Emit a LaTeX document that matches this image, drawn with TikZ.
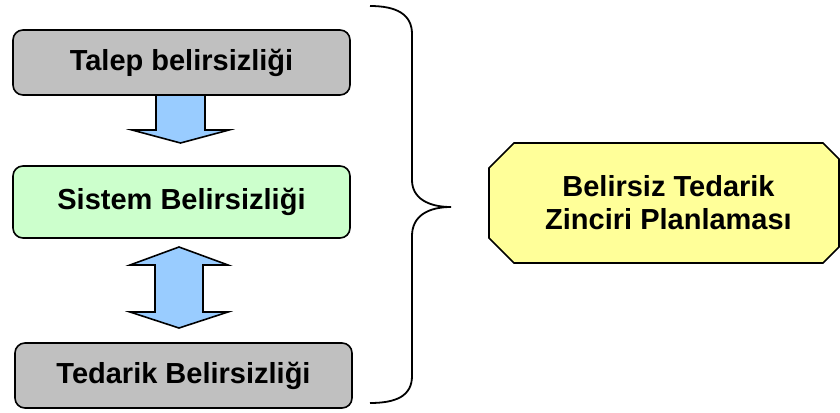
\documentclass[tikz,border=0pt]{standalone}
\usepackage{fontspec}
\setmainfont{Liberation Sans}
\begin{document}
\begin{tikzpicture}[x=1pt,y=-1pt,
  lbl/.style={font=\fontsize{29}{33}\selectfont\bfseries, align=center},
  ubox/.style={lbl, draw=black, line width=1.6pt, rounded corners=10pt,
    minimum width=337pt, minimum height=65pt, inner sep=0pt},
  blockarrow/.style={draw=black, line width=1.6pt, fill=arrowblue, line join=miter},
  brace/.style={draw=black, line width=1.8pt}]
\definecolor{boxgray}{HTML}{C0C0C0}
\definecolor{boxgreen}{HTML}{CCFFCC}
\definecolor{arrowblue}{HTML}{99CCFF}
\definecolor{planyellow}{HTML}{FFFF99}
\useasboundingbox (0,0) rectangle (840,412);

% single arrow: demand -> system
\draw[blockarrow] (156,95) -- (156,130) -- (132,130) -- (180.5,143) -- (229,130)
  -- (205,130) -- (205,95);
% double arrow: system <-> supply
\draw[blockarrow] (179,247) -- (228,265) -- (203,265) -- (203,312) -- (228,312)
  -- (179,328) -- (130,312) -- (155,312) -- (155,265) -- (130,265) -- cycle;

% uncertainty sources
\node[ubox, fill=boxgray] (talep) at (181.5,62.5) {Talep belirsizliği};
\node[ubox, fill=boxgreen, minimum height=72pt] (sistem) at (181.5,202) {Sistem Belirsizliği};
\node[ubox, fill=boxgray] (tedarik) at (183.5,375.5) {Tedarik Belirsizliği};

% grouping brace
\coordinate (btop) at (370,6);
\coordinate (btip) at (451,207);
\coordinate (bbot) at (370,403);
\draw[brace] (btop) .. controls (396,6) and (412,14) .. (412,34) -- (412,180)
  .. controls (412,198) and (428,207) .. (btip)
  .. controls (428,207) and (412,216) .. (412,236) -- (412,376)
  .. controls (412,396) and (396,403) .. (bbot);

% planning octagon
\draw[line width=1.6pt, fill=planyellow, line join=miter]
  (514,143) -- (823,143) -- (839,159) -- (839,247) -- (823,263) -- (514,263)
  -- (489,238) -- (489,168) -- cycle;
\node[lbl] (plan) at (668.5,203) {Belirsiz Tedarik\\Zinciri Planlaması};
\end{tikzpicture}
\end{document}
